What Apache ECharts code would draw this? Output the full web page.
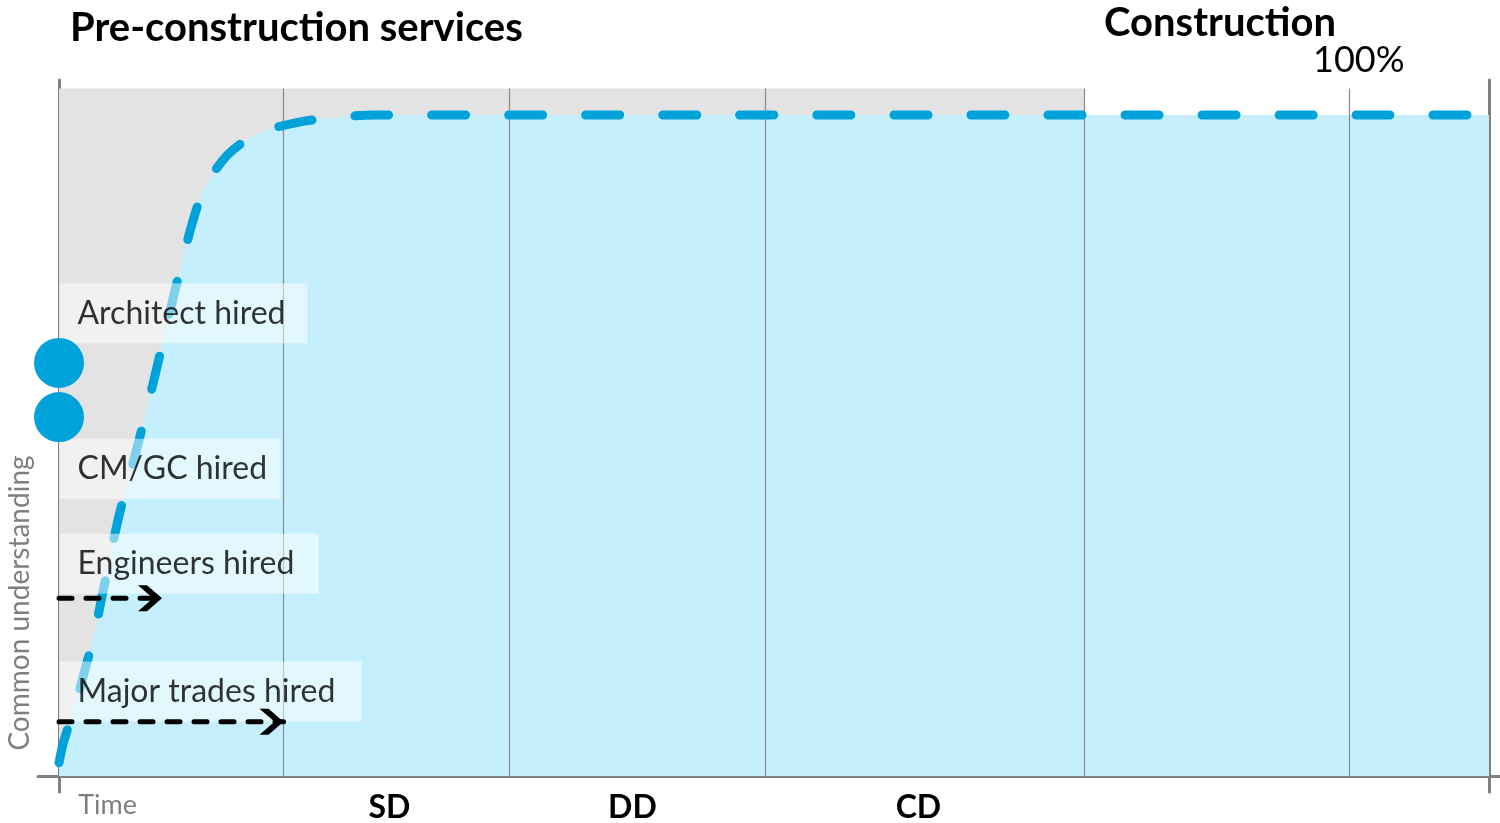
<!DOCTYPE html>
<html>
<head>
<meta charset="utf-8">
<script src="https://cdn.jsdelivr.net/npm/echarts@6/dist/echarts.min.js"></script>
<style>
  html, body { margin: 0; padding: 0; background: #ffffff; }
  #chart { width: 1500px; height: 823px; }
</style>
</head>
<body>
<div id="chart"></div>
<script>
// Shared understanding of the project over time (percent)
const timeX = [0, 0.3, 1.1, 2.4, 4.1, 5.5, 6.7, 8.0, 9.3, 10.2, 11.8, 13.9, 16.7, 19.2, 22, 100];
const understanding = [2, 5, 10.5, 21, 38.5, 50, 60.5, 72.5, 83.5, 89, 94, 97.2, 98.9, 99.6, 100, 100];

// Phase boundaries on the time axis
const phaseBounds = [15.7, 31.5, 49.4, 71.7, 90.2];
const preconEnd = 71.7;

// Time-axis labels
const axisLabelNames = ['Time', 'SD', 'DD', 'CD'];
const axisLabelAt = [3.4, 23.1, 40.1, 60.1];

// Hiring milestones
const milestoneNames = ['Architect hired', 'CM/GC hired', 'Engineers hired', 'Major trades hired'];
const milestoneLevel = [70.0, 46.5, 32.1, 12.8];

// Hire markers on the understanding axis
const hireDots = [62.5, 54.3];

// Lead-time arrows: level and end time
const rampLevel = [26.9, 8.2];
const rampEnd = [7.2, 15.7];

// ---- chart ----
const FONT = 'Lato';
const BLUE = '#00A3D9';
const AXIS_GREY = '#7f7f7f';
const PLOT_TOP = 104;
const boxTextWidth = [210, 183, 221, 264];
const chevron = 'path://M0,0 L6,0 L16,12 L6,24 L0,24 L10,12 Z';

const curve = timeX.map((x, i) => [x, understanding[i]]);

const chart = echarts.init(document.getElementById('chart'), null, { renderer: 'canvas' });

const option = {
  animation: false,
  backgroundColor: '#ffffff',
  grid: { left: 38, right: 0, top: 80, bottom: 31, containLabel: false, outerBoundsMode: 'none' },
  xAxis: {
    type: 'value',
    min: -1.47,
    max: 100.77,
    axisLine: { show: true, onZero: true, lineStyle: { color: AXIS_GREY, width: 3 } },
    axisTick: { show: false },
    splitLine: { show: false },
    axisLabel: {
      customValues: axisLabelAt,
      margin: 0,
      formatter: function (v) {
        const i = axisLabelAt.indexOf(v);
        if (i < 0) return '';
        return i === 0 ? '{t|' + axisLabelNames[i] + '}' : '{p|' + axisLabelNames[i] + '}';
      },
      rich: {
        t: { fontFamily: FONT, fontSize: 27, color: AXIS_GREY },
        p: { fontFamily: FONT, fontSize: 32, fontWeight: 'bold', color: '#000' }
      }
    }
  },
  yAxis: [
    {
      type: 'value',
      min: -2.42,
      max: 105.3,
      axisLine: { show: true, onZero: true, lineStyle: { color: AXIS_GREY, width: 3 } },
      axisTick: { show: false },
      axisLabel: { show: false },
      splitLine: { show: false }
    },
    {
      type: 'value',
      min: -2.42,
      max: 105.3,
      position: 'right',
      offset: -11,
      axisLine: { show: true, onZero: false, lineStyle: { color: AXIS_GREY, width: 3 } },
      axisTick: { show: false },
      axisLabel: { show: false },
      splitLine: { show: false }
    }
  ],
  graphic: [
    {
      type: 'text', x: 70, y: 28, silent: true,
      style: { text: 'Pre-construction services', font: 'bold 40px ' + FONT, fill: '#000',
        align: 'left', verticalAlign: 'middle', textAlign: 'left', textVerticalAlign: 'middle' }
    },
    {
      type: 'text', x: 1104, y: 23, silent: true,
      style: { text: 'Construction', font: 'bold 40px ' + FONT, fill: '#000',
        align: 'left', verticalAlign: 'middle', textAlign: 'left', textVerticalAlign: 'middle' }
    },
    {
      type: 'text', x: 1313, y: 60, silent: true,
      style: { text: '100%', font: '36px ' + FONT, fill: '#000',
        align: 'left', verticalAlign: 'middle', textAlign: 'left', textVerticalAlign: 'middle' }
    },
    {
      type: 'text', x: 20, y: 603, rotation: Math.PI / 2, silent: true,
      style: { text: 'Common understanding', font: '28px ' + FONT, fill: AXIS_GREY,
        align: 'center', verticalAlign: 'middle', textAlign: 'center', textVerticalAlign: 'middle' }
    }
  ],
  series: [
    {
      // filled area under the understanding curve, with phase backdrop and dividers
      name: 'fill',
      type: 'line',
      z: 2,
      silent: true,
      data: curve,
      smooth: 0.3,
      symbol: 'none',
      lineStyle: { width: 0 },
      areaStyle: { color: '#C5EFFD', opacity: 1 },
      markArea: {
        z: 1,
        silent: true,
        itemStyle: { color: '#E3E3E3' },
        label: { show: false },
        data: [[{ xAxis: 0, yAxis: 0 }, { xAxis: preconEnd, yAxis: PLOT_TOP }]]
      },
      markLine: {
        z: 3,
        silent: true,
        symbol: ['none', 'none'],
        label: { show: false },
        lineStyle: { color: '#8a8a8a', width: 1.2, type: 'solid' },
        data: phaseBounds.map(x => [{ coord: [x, 0] }, { coord: [x, PLOT_TOP] }])
      }
    },
    {
      name: 'Common understanding',
      type: 'line',
      z: 4,
      silent: true,
      data: curve,
      smooth: 0.3,
      symbol: 'none',
      lineStyle: { color: BLUE, width: 9, type: [34, 43], cap: 'round' }
    },
    {
      name: 'milestones',
      type: 'scatter',
      z: 5,
      silent: true,
      symbol: 'circle',
      symbolSize: 1,
      itemStyle: { color: 'rgba(0,0,0,0)' },
      data: milestoneLevel.map((y, i) => ({
        name: milestoneNames[i],
        value: [0, y],
        label: { width: boxTextWidth[i] }
      })),
      label: {
        show: true,
        position: 'right',
        distance: 0,
        formatter: '{b}',
        fontFamily: FONT,
        fontSize: 32,
        lineHeight: 36,
        color: '#000',
        align: 'left',
        overflow: 'none',
        backgroundColor: 'rgba(255,255,255,0.62)',
        padding: [12, 20, 12, 18]
      }
    },
    ...rampLevel.map((y, i) => ({
      name: 'lead ' + i,
      type: 'line',
      z: 6,
      silent: true,
      data: [{ value: [0, y], symbol: 'none' }, { value: [rampEnd[i], y] }],
      symbol: chevron,
      symbolSize: [24, 26],
      symbolOffset: [-12, 0],
      showSymbol: true,
      itemStyle: { color: '#000' },
      lineStyle: { color: '#000', width: 5, type: [13, 14], cap: 'round' }
    })),
    {
      name: 'hires',
      type: 'scatter',
      z: 7,
      silent: true,
      symbolSize: 50,
      itemStyle: { color: BLUE, opacity: 1 },
      data: hireDots.map(y => [0, y])
    }
  ]
};

chart.setOption(option);
</script>
</body>
</html>
